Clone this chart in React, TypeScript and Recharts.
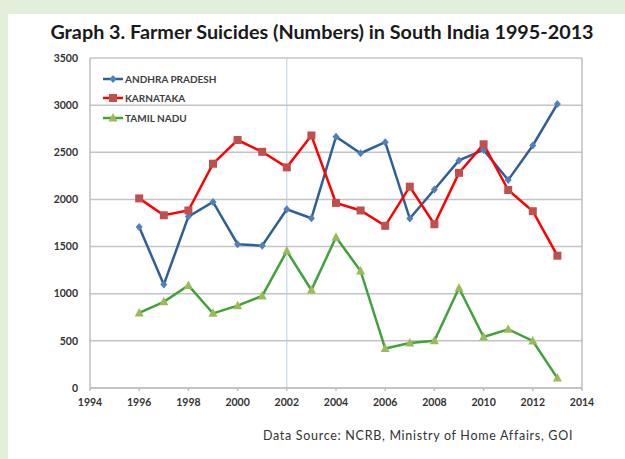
import {
  LineChart,
  Line,
  XAxis,
  YAxis,
  CartesianGrid,
  ReferenceLine,
} from "recharts";

const years = [
  1996, 1997, 1998, 1999, 2000, 2001, 2002, 2003, 2004, 2005, 2006, 2007, 2008,
  2009, 2010, 2011, 2012, 2013,
];

const andhraPradesh = [
  1707, 1097, 1818, 1974, 1525, 1509, 1896, 1800, 2666, 2490, 2607, 1797, 2105,
  2414, 2525, 2206, 2572, 3013,
];

const karnataka = [
  2011, 1832, 1883, 2379, 2630, 2505, 2340, 2678, 1963, 1883, 1720, 2135, 1737,
  2282, 2585, 2100, 1875, 1403,
];

const tamilNadu = [
  796, 914, 1088, 792, 873, 977, 1452, 1039, 1599, 1241, 418, 478, 500, 1060,
  541, 623, 499, 105,
];

const xTicks = [1994, 1996, 1998, 2000, 2002, 2004, 2006, 2008, 2010, 2012, 2014];
const yTicks = [0, 500, 1000, 1500, 2000, 2500, 3000, 3500];

const data = years.map((year, i) => ({
  year,
  ap: andhraPradesh[i],
  ka: karnataka[i],
  tn: tamilNadu[i],
}));

const FONT = "Lato, 'Open Sans', sans-serif";

const SERIES = [
  { key: "ap", name: "ANDHRA PRADESH", line: "#2f5f98", marker: "#4f81bd", shape: "diamond" },
  { key: "ka", name: "KARNATAKA", line: "#ff0000", marker: "#c0504d", shape: "square" },
  { key: "tn", name: "TAMIL NADU", line: "#3fa33a", marker: "#9bbb59", shape: "triangle" },
];

function Marker({ shape, x, y, color }: { shape: string; x: number; y: number; color: string }) {
  if (shape === "diamond") {
    return <polygon points={`${x},${y - 4} ${x + 3.5},${y} ${x},${y + 4} ${x - 3.5},${y}`} fill={color} />;
  }
  if (shape === "square") {
    return <rect x={x - 4} y={y - 4} width={8} height={8} fill={color} />;
  }
  return <polygon points={`${x},${y - 5} ${x + 4.5},${y + 3.5} ${x - 4.5},${y + 3.5}`} fill={color} />;
}

function makeDot(shape: string, color: string) {
  return (props: any) => {
    const { cx, cy, index } = props;
    if (cx == null || cy == null) return <g key={index} />;
    return (
      <g key={`${shape}-${index}`}>
        <Marker shape={shape} x={cx} y={cy} color={color} />
      </g>
    );
  };
}

// legend sits inside the plot area, top-left
function LegendBox() {
  return (
    <div
      style={{
        position: "absolute",
        left: 102,
        top: 69,
        fontFamily: FONT,
        fontSize: 10,
        fontWeight: 700,
        color: "#404040",
      }}
    >
      {SERIES.map((s) => (
        <div key={s.key} style={{ display: "flex", alignItems: "center", height: 19.5 }}>
          <svg width={22} height={10} style={{ marginRight: 1 }}>
            <line x1={1} y1={5} x2={21} y2={5} stroke={s.line} strokeWidth={2.5} />
            <Marker shape={s.shape} x={11} y={5} color={s.marker} />
          </svg>
          <span>{s.name}</span>
        </div>
      ))}
    </div>
  );
}

const tickStyle = { fill: "#333", fontSize: 10.5, fontWeight: 700, fontFamily: FONT };

export default function App() {
  return (
    <div
      style={{
        position: "absolute",
        left: 0,
        top: 0,
        width: 625,
        height: 459,
        background: "#e2efda",
        overflow: "hidden",
      }}
    >
      <div
        style={{
          position: "absolute",
          left: 8,
          top: 14,
          width: 617,
          height: 445,
          background: "#ffffff",
        }}
      />
      <div
        style={{
          position: "absolute",
          left: 0,
          top: 19,
          width: 644,
          textAlign: "center",
          fontFamily: FONT,
          fontWeight: 700,
          fontSize: 19.8,
          color: "#1a1a1a",
          whiteSpace: "nowrap",
        }}
      >
        Graph 3. Farmer Suicides (Numbers) in South India 1995-2013
      </div>
      <div style={{ position: "absolute", left: 0, top: 0 }}>
        <LineChart
          width={625}
          height={459}
          data={data}
          margin={{ top: 58, right: 43, bottom: 43, left: 50 }}
        >
          <CartesianGrid vertical={false} stroke="#c4c4c4" strokeWidth={1.5} />
          <XAxis
            dataKey="year"
            type="number"
            domain={[1994, 2014]}
            ticks={xTicks}
            interval={0}
            height={28}
            tickSize={3}
            tickMargin={8}
            stroke="#bfbfbf"
            strokeWidth={1.5}
            tick={tickStyle}
          />
          <YAxis
            type="number"
            domain={[0, 3500]}
            ticks={yTicks}
            interval={0}
            width={40}
            tickLine={false}
            tickMargin={6}
            stroke="#bfbfbf"
            strokeWidth={1.5}
            tick={tickStyle}
          />
          <ReferenceLine x={2014} stroke="#bfbfbf" strokeWidth={1.5} />
          <ReferenceLine x={2002} stroke="#b8cce4" strokeWidth={1} />
          {SERIES.map((s) => (
            <Line
              key={s.key}
              dataKey={s.key}
              name={s.name}
              stroke={s.line}
              strokeWidth={2.5}
              dot={makeDot(s.shape, s.marker)}
              activeDot={false}
              isAnimationActive={false}
            />
          ))}
        </LineChart>
      </div>
      <LegendBox />
      <div
        style={{
          position: "absolute",
          left: 263,
          top: 428,
          fontFamily: FONT,
          fontSize: 12.5,
          letterSpacing: 0.7,
          color: "#333",
          whiteSpace: "nowrap",
        }}
      >
        Data Source: NCRB, Ministry of Home Affairs, GOI
      </div>
    </div>
  );
}
